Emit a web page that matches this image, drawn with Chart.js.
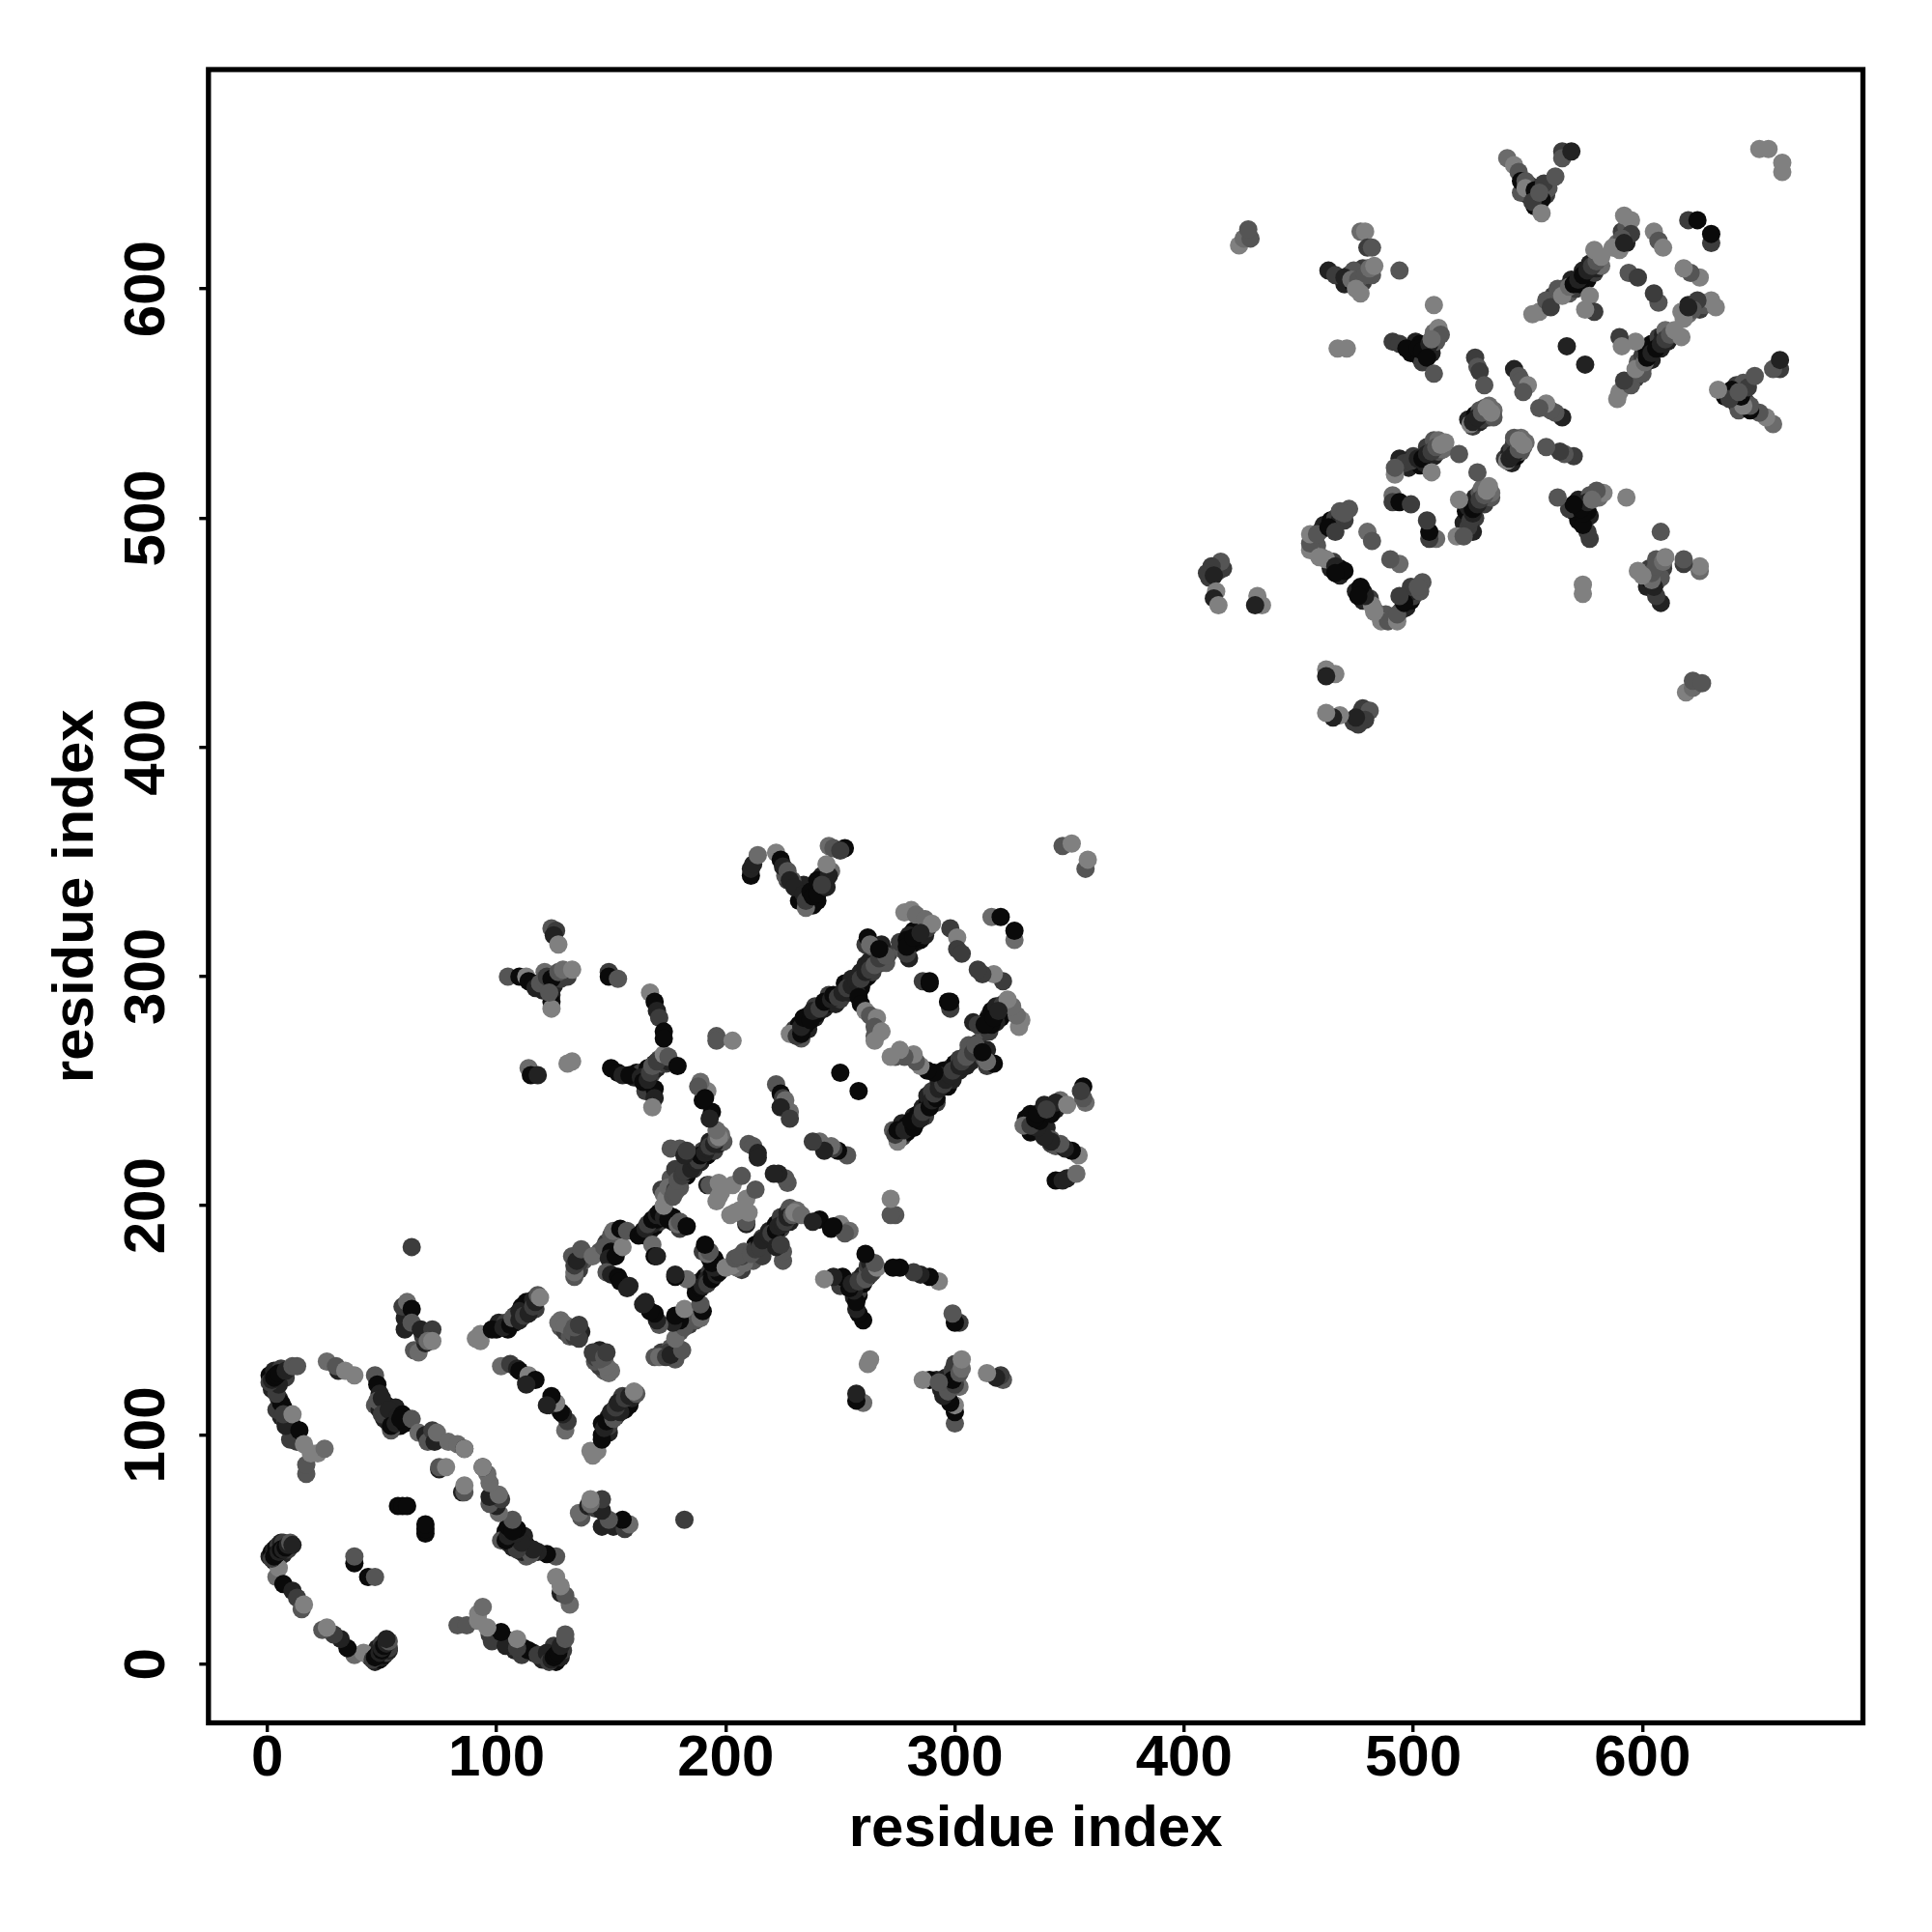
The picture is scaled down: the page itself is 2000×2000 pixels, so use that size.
<!DOCTYPE html>
<html><head><meta charset="utf-8">
<style>html,body{margin:0;padding:0;background:#fff}#w{width:2000px;height:2000px}</style>
<script src="https://cdn.jsdelivr.net/npm/chart.js@4"></script>
</head><body><div id="w"><canvas id="c" width="2000" height="2000"></canvas></div>
<script>
const tickValues=[0,100,200,300,400,500,600];
const axisTitle="residue index";
const bandI=[
1,2,3,4,5,6,7,3,5,7,9,
50,52,53,55,52,55,56,58,61,47,49,
2,3,1,3,6,7,8,
6,8,11,12,13,5,7,
100,101,104,105,108,108,111,113,115,113,116,117,
128,130,132,132,135,137,128,
136,136,138,138,136,145,148,150,152,151,153,148,150,
165,167,169,171,168,170,173,175,177,177,180,
178,180,183,183,186,186,189,190,192,193,195,197,199,198,176,178,174,172,173,
160,161,163,165,166,168,170,169,171,167,165,169,172,174,175,
120,122,123,125,126,128,130,131,124,121,
232,236,238,238,241,236,234,240,243,242,229,227,226,246,
230,232,233,236,235,236,239,240,239,243,244,245,248,250,252,254,256,255,258,260,259,262,264,261,265,268,263,270,271,266,264,261,268,259,257,
282,280,283,285,287,288,281,277,276,280,
470,472,474,476,478,480,482,478,474,
499,501,503,505,508,503,510,509,506,504,
550,554,558,553,559,551,547,
524,526,527,529,530,531,533,535,535,533,529,
498,500,503,505,507,509,511,513,506,509,511,514,
411,414,411,415,417,
456,458,460,461,464,466,468,470,472,460,464,468,468,465,
565,568,569,571,573,574,576,577,579,580,581,582,560,561,
591,593,593,589
];
const bandJ=[
47,49,50,51,52,53,53,45,47,48,50,
112,108,105,103,113,110,112,104,107,113,111,
120,122,126,128,129,126,125,
108,106,104,100,97,116,112,
146,149,149,146,149,152,156,155,154,158,159,155,
147,145,147,143,145,145,150,
172,178,176,179,175,180,179,183,181,186,186,184,187,
187,189,191,193,192,194,198,196,195,193,190,
210,212,213,217,216,221,219,224,222,228,224,227,228,231,212,216,204,207,205,
256,258,258,257,260,258,260,262,264,252,250,251,262,262,263,
294,296,298,296,300,299,301,300,292,302,
333,333,331,339,338,339,340,333,342,344,342,342,344,346,
277,279,273,277,279,283,282,284,287,286,288,292,288,290,297,293,295,299,296,298,302,300,302,305,308,306,307,306,310,310,313,314,314,295,293,
320,318,315,316,318,321,314,312,315,308,
602,606,602,607,603,609,606,609,608,
572,577,570,575,572,576,577,581,573,568,
641,640,641,636,644,645,642,
543,540,545,542,543,548,544,547,544,549,547,
522,527,523,524,526,527,529,530,531,534,534,533,
476,478,474,477,478,
491,488,495,497,499,500,499,499,504,483,478,478,475,481,
600,598,604,600,602,608,604,611,607,609,614,610,595,597,
625,627,620,620
];
const bandGray=[
34,10,34,10,60,34,60,34,10,34,60,
34,10,60,34,10,60,34,10,60,85,34,
34,60,10,34,60,85,60,
34,60,10,85,60,34,10,
10,34,60,10,34,60,10,34,60,10,34,60,
85,60,34,85,60,34,107,
60,34,85,10,60,85,34,10,60,85,34,60,85,
10,34,10,60,34,10,34,60,10,34,60,
34,60,10,34,60,10,34,60,10,34,60,34,85,107,85,60,85,60,107,
34,10,60,34,10,60,34,10,85,34,60,10,85,60,34,
34,10,60,34,85,60,85,60,34,107,
10,34,10,60,34,10,34,10,60,34,85,60,85,107,
60,10,85,34,10,60,34,10,60,34,10,60,34,60,10,34,60,34,10,60,34,10,60,34,85,60,34,85,60,34,85,60,34,10,34,
10,34,60,10,34,60,10,85,60,34,
34,60,10,85,60,107,85,60,85,
10,34,10,60,34,10,85,107,34,60,
10,34,60,10,85,60,85,
34,60,10,34,60,85,60,107,85,107,85,
34,60,10,34,60,34,85,107,60,85,107,128,
60,34,60,85,60,
107,85,60,34,10,60,34,60,85,107,34,10,34,60,
60,85,34,60,10,34,10,34,60,34,85,107,85,60,
60,85,34,107
];
const residueI=[
4,5,7,11,13,15,16,2,3,4,5,6,7,8,9,10,11,
38,38,
17,17,10,8,4,6,7,11,14,16,19,22,25,4,5,1,2,3,4,5,8,11,13,
26,31,30,34,38,
47,48,49,48,50,51,50,53,54,54,56,57,59,60,58,63,66,69,70,72,73,74,79,83,86,86,
75,75,78,57,59,61,63,
60,64,66,69,68,60,59,61,63,63,67,72,70,72,
91,93,93,98,103,106,107,110,110,112,114,116,117,118,119,
127,130,134,133,136,134,136,
102,106,109,110,113,114,117,113,
134,134,133,134,135,137,142,147,150,149,152,155,151,154,157,162,164,165,166,168,170,171,173,175,179,180,183,168,169,170,148,150,153,154,158,157,
173,174,175,177,178,180,178,179,181,184,182,185,187,188,189,191,192,193,195,196,197,176,180,182,183,196,194,193,190,192,189,188,191,
192,193,197,203,207,196,197,198,210,212,214,214,
211,211,212,214,222,224,225,227,228,230,234,235,235,237,238,240,240,244,245,244,245,247,252,250,242,
124,126,125,127,105,110,113,114,116,117,119,121,122,124,124,124,123,127,129,133,
149,149,153,114,115,118,131,133,
150,153,155,158,163,164,166,167,168,170,169,168,173,175,179,
167,169,170,171,173,173,196,196,203,
222,224,225,226,228,224,228,250,
228,231,233,233,234,237,238,241,243,246,247,249,251,253,255,257,259,261,263,265,267,270,262,263,267,258,259,261,263,266,265,265,268,265,
278,281,283,287,290,279,279,279,282,285,298,301,301,303,286,289,289,316,320,347,351,
424,426,429,428,477,479,480,482,463,466,470,473,476,479,481,483,477,475,494,509,
511,512,491,494,497,502,504,507,506,508,509,467,471,527,528,529,531,544,546,547,550,548,
541,544,546,547,549,549,553,556,552,556,557,555,562,565,565,569,651,655,
525,526,528,530,532,534,494,496,499,502,504,506,508,510,512,492,492,491,491,494,499,508,520,
416,412,410,413,414,413,415,432,434,431,
455,455,455,458,459,462,463,466,468,470,466,470,466,480,482,
592,595,595,591,587,590,592,605,607,609,620,624,594,598,
552,555,558,560,563,565,568,570,572,574,576,578,580,582,579,577,579,575,567
];
const residueJ=[
38,42,35,32,29,24,26,46,47,48,49,50,50,51,52,53,52,
44,47,
83,87,98,104,111,114,109,109,102,96,92,92,94,118,122,123,124,125,126,127,128,130,130,
132,128,130,128,126,
126,122,118,115,116,107,109,111,102,104,105,108,109,105,107,107,101,100,97,102,97,101,97,96,94,94,
85,86,86,69,69,69,182,
146,137,136,140,143,151,156,158,155,149,146,146,141,141,
142,144,141,146,147,148,151,150,154,152,153,156,158,161,160,
149,148,143,145,142,147,148,
130,131,129,128,123,126,124,122,
169,171,178,174,176,181,178,182,180,177,178,182,189,190,189,187,189,190,192,194,196,197,195,194,192,193,191,183,178,178,171,170,169,167,165,164,
200,203,208,204,207,208,206,211,213,215,215,216,219,220,222,223,225,226,227,229,230,225,225,222,224,233,241,238,246,250,254,252,247,
209,209,210,209,213,202,204,206,227,226,223,221,
344,347,349,353,354,351,348,346,342,339,336,330,333,337,335,336,342,339,344,349,357,356,356,355,340,
321,320,318,314,300,300,300,298,297,295,297,299,300,299,289,286,293,302,303,303,
302,300,299,260,257,257,262,263,
260,258,257,257,256,254,255,258,261,263,247,243,266,265,261,
293,289,285,282,276,273,274,272,272,
253,249,247,246,241,243,238,258,
275,274,275,278,282,281,285,286,289,290,292,291,293,295,296,298,299,302,303,305,308,309,317,314,312,291,288,285,283,282,278,274,276,272,
328,329,327,325,323,316,310,313,317,319,321,317,312,310,298,297,298,326,326,357,358,
619,622,622,626,625,625,618,618,608,606,605,604,604,606,609,610,598,600,608,593,
583,580,577,576,574,574,573,576,570,578,563,574,574,570,566,564,558,565,562,560,558,555,
657,654,651,647,647,644,643,639,638,633,646,642,649,660,657,660,661,661,
541,542,544,546,548,546,526,524,525,526,526,528,529,531,532,519,522,510,507,507,506,520,528,
481,479,476,475,468,465,462,466,462,462,
486,489,493,493,483,482,496,494,503,502,479,477,476,494,490,
632,630,624,622,618,617,620,625,621,618,630,630,607,605,
589,590,595,592,600,597,601,602,604,606,608,610,612,614,617,597,590,591,575
];
const grayLevel=[
107,128,10,34,60,85,128,60,10,10,34,10,34,10,34,85,34,
10,85,
85,85,60,34,60,10,60,128,10,128,128,128,107,60,34,60,34,10,10,10,34,85,85,
107,34,85,128,128,
85,10,34,85,34,34,60,34,85,10,34,34,10,10,10,85,107,34,85,60,34,107,107,107,34,128,
34,85,128,10,10,10,60,
34,85,107,34,60,34,60,107,10,85,34,60,107,128,
128,128,128,10,34,10,85,34,34,60,34,60,34,85,128,
107,107,60,85,60,85,60,
107,60,34,10,34,128,10,34,
85,107,85,60,34,85,107,85,10,34,10,128,107,10,85,10,10,34,60,10,34,10,34,10,107,85,10,107,10,34,85,34,10,10,34,34,
128,128,107,85,60,85,85,85,60,10,60,34,34,60,10,34,34,60,34,85,128,85,85,34,60,107,10,34,10,128,107,85,10,
34,85,128,128,85,128,128,128,85,85,34,34,
10,34,34,107,128,10,34,85,34,34,34,107,60,10,10,10,10,34,34,128,107,85,10,60,60,
85,60,34,128,85,10,128,10,10,34,85,85,60,10,10,128,85,85,107,128,
60,10,85,107,10,34,128,128,
10,10,34,10,34,10,34,60,85,60,34,128,128,85,10,
128,10,34,60,10,10,85,85,128,
85,10,60,107,107,34,60,10,
128,60,10,34,10,10,34,60,10,34,10,60,34,60,34,34,60,34,60,85,60,85,10,107,10,10,10,128,85,128,85,85,128,128,
128,128,107,107,128,10,60,10,10,34,60,128,60,60,60,10,10,107,10,85,128,
128,107,85,85,107,128,60,85,34,60,34,107,85,85,107,128,128,128,85,128,
128,85,60,60,10,10,10,34,10,107,85,128,128,60,85,60,85,34,85,85,128,85,
107,128,85,10,85,128,10,10,60,128,60,85,85,60,85,34,128,128,
128,34,34,85,128,128,34,60,60,34,10,34,60,85,128,128,85,107,60,10,60,128,85,
85,60,60,34,128,34,128,128,128,34,
128,85,128,85,128,128,10,60,85,85,34,10,10,107,85,
128,128,60,85,128,128,34,128,85,128,60,10,85,60,
128,128,85,60,85,128,107,10,34,10,34,60,85,128,128,128,60,128,34
];
const contacts=[],fills=[];
function addContacts(is,js,gs){is.forEach((r,k)=>{
  const col=`rgb(${gs[k]},${gs[k]},${gs[k]})`;
  contacts.push({x:r,y:js[k]});fills.push(col);
  contacts.push({x:js[k],y:r});fills.push(col);
});}
addContacts(bandI,bandJ,bandGray);
addContacts(residueI,residueJ,grayLevel);
const frame={id:'frame',afterDraw(ch){const a=ch.chartArea,c=ch.ctx;c.save();c.strokeStyle='#000';c.lineWidth=5.3;c.strokeRect(a.left,a.top,a.right-a.left,a.bottom-a.top);c.restore();}};
const F='"Liberation Sans", Arial, sans-serif';
const tickFont={family:F,size:60,weight:'bold'};
function common(){return {
  type:'linear',
  grid:{drawOnChartArea:false,drawTicks:true,tickLength:9.5,tickWidth:3.4,tickColor:'#000',lineWidth:3.4,color:'#000'},
  border:{display:false},
};}
const xOpt=common(),yOpt=common();
Object.assign(xOpt,{min:-25.67,max:696.2,afterBuildTicks(s){s.ticks=tickValues.map(v=>({value:v}));},afterFit(s){s.height=216.5;},
  title:{display:true,text:axisTitle,color:'#000',font:{family:F,size:60,weight:'bold'},padding:{top:0,bottom:70}},
  ticks:{color:'#000',font:tickFont,padding:-8,maxRotation:0,minRotation:0,autoSkip:false}});
Object.assign(yOpt,{min:-25.6,max:695.7,afterBuildTicks(s){s.ticks=tickValues.map(v=>({value:v}));},afterFit(s){s.width=215.8;},
  title:{display:true,text:axisTitle,color:'#000',font:{family:F,size:60,weight:'bold'},padding:{top:43,bottom:0}},
  ticks:{color:'#000',font:tickFont,padding:3,minRotation:90,maxRotation:90,crossAlign:'center',autoSkip:false}});
new Chart(document.getElementById('c'),{
  type:'scatter',
  data:{datasets:[{data:contacts,pointBackgroundColor:fills,pointBorderWidth:0,pointRadius:9.5,pointHoverRadius:9.5,showLine:false}]},
  options:{responsive:false,animation:false,devicePixelRatio:1,
    layout:{padding:{top:72,right:71.5,left:0,bottom:0}},
    plugins:{legend:{display:false},tooltip:{enabled:false}},
    scales:{x:xOpt,y:yOpt}},
  plugins:[frame]
});
</script></body></html>
